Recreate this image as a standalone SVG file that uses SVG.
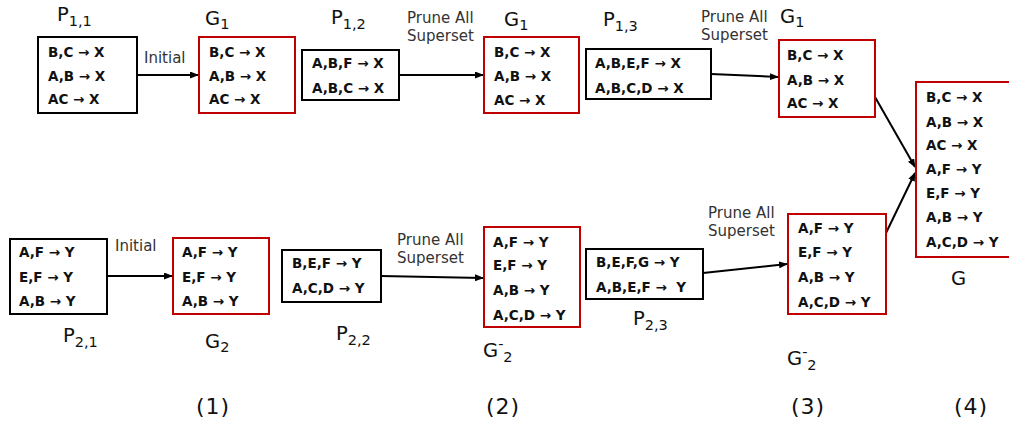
<svg xmlns="http://www.w3.org/2000/svg" width="1009" height="427" viewBox="0 0 1009 427">
<style>
.bk{fill:#fff;stroke:#000;stroke-width:2}
.rd{fill:#fff;stroke:#c00000;stroke-width:2}
.r{font-family:"DejaVu Sans",Verdana,sans-serif;font-weight:bold;font-size:13.5px;fill:#111}
.lbl{font-family:"DejaVu Sans",Verdana,sans-serif;font-size:19.5px;fill:#111}
.sub{font-size:14.5px}
.ed{font-family:"DejaVu Sans",Verdana,sans-serif;font-size:15px;fill:#333}
.num{font-family:"DejaVu Sans",Verdana,sans-serif;font-size:22px;fill:#111;letter-spacing:1px}
.cn{stroke:#000;stroke-width:2;fill:none;marker-end:url(#ah)}
</style>
<defs>
<marker id="ah" markerUnits="userSpaceOnUse" markerWidth="9" markerHeight="7" refX="8" refY="3.5" orient="auto">
<path d="M0,0 L9,3.5 L0,7 z" fill="#000"/>
</marker>
</defs>
<rect width="1009" height="427" fill="#fff"/>

<g id="connectors">
<line class="cn" x1="137" y1="75" x2="198" y2="75"/>
<line class="cn" x1="399" y1="75" x2="483" y2="75"/>
<line class="cn" x1="711" y1="74" x2="778" y2="77"/>
<line class="cn" x1="875" y1="97" x2="915" y2="167"/>
<line class="cn" x1="107" y1="276" x2="172" y2="276"/>
<line class="cn" x1="381" y1="276" x2="483" y2="278"/>
<line class="cn" x1="703" y1="273" x2="787" y2="264"/>
<line class="cn" x1="886" y1="233" x2="915" y2="173"/>
<text class="ed" x="144" y="63">Initial</text>
<text class="ed" x="407" y="23">Prune All</text>
<text class="ed" x="407" y="41">Superset</text>
<text class="ed" x="701" y="22">Prune All</text>
<text class="ed" x="701" y="40">Superset</text>
<text class="ed" x="115" y="251">Initial</text>
<text class="ed" x="397" y="245">Prune All</text>
<text class="ed" x="397" y="263">Superset</text>
<text class="ed" x="708" y="218">Prune All</text>
<text class="ed" x="708" y="236">Superset</text>
</g>

<g id="P11">
<rect class="bk" x="38" y="37" width="99" height="76"/>
<text class="r" x="48" y="57">B,C → X</text>
<text class="r" x="48" y="81">A,B → X</text>
<text class="r" x="48" y="104">AC → X</text>
<text class="lbl" x="57" y="21">P<tspan class="sub" dy="5">1,1</tspan></text>
</g>

<g id="G1a">
<rect class="rd" x="199" y="37" width="96" height="76"/>
<text class="r" x="209" y="57">B,C → X</text>
<text class="r" x="209" y="81">A,B → X</text>
<text class="r" x="209" y="104">AC → X</text>
<text class="lbl" x="205" y="25">G<tspan class="sub" dy="4">1</tspan></text>
</g>

<g id="P12">
<rect class="bk" x="302" y="50" width="97" height="50"/>
<text class="r" x="312" y="68">A,B,F → X</text>
<text class="r" x="312" y="93">A,B,C → X</text>
<text class="lbl" x="331" y="24">P<tspan class="sub" dy="5">1,2</tspan></text>
</g>

<g id="G1b">
<rect class="rd" x="484" y="37" width="95" height="76"/>
<text class="r" x="494" y="57">B,C → X</text>
<text class="r" x="494" y="81">A,B → X</text>
<text class="r" x="494" y="105">AC → X</text>
<text class="lbl" x="504" y="26">G<tspan class="sub" dy="4">1</tspan></text>
</g>

<g id="P13">
<rect class="bk" x="586" y="49" width="125" height="50"/>
<text class="r" x="595" y="68">A,B,E,F → X</text>
<text class="r" x="595" y="93">A,B,C,D → X</text>
<text class="lbl" x="603" y="26">P<tspan class="sub" dy="5">1,3</tspan></text>
</g>

<g id="G1c">
<rect class="rd" x="779" y="40" width="96" height="77"/>
<text class="r" x="787" y="60">B,C → X</text>
<text class="r" x="787" y="85">A,B → X</text>
<text class="r" x="787" y="108">AC → X</text>
<text class="lbl" x="780" y="23">G<tspan class="sub" dy="4">1</tspan></text>
</g>

<g id="G">
<rect class="rd" x="916" y="82" width="100" height="175"/>
<text class="r" x="926" y="102">B,C → X</text>
<text class="r" x="926" y="127">A,B → X</text>
<text class="r" x="926" y="150">AC → X</text>
<text class="r" x="926" y="174">A,F → Y</text>
<text class="r" x="926" y="198">E,F → Y</text>
<text class="r" x="926" y="222">A,B → Y</text>
<text class="r" x="926" y="247">A,C,D → Y</text>
<text class="lbl" x="951" y="285">G</text>
</g>

<g id="P21">
<rect class="bk" x="10" y="239" width="97" height="75"/>
<text class="r" x="19" y="257">A,F → Y</text>
<text class="r" x="19" y="282">E,F → Y</text>
<text class="r" x="19" y="306">A,B → Y</text>
<text class="lbl" x="63" y="342">P<tspan class="sub" dy="5">2,1</tspan></text>
</g>

<g id="G2">
<rect class="rd" x="173" y="238" width="96" height="76"/>
<text class="r" x="182" y="257">A,F → Y</text>
<text class="r" x="182" y="282">E,F → Y</text>
<text class="r" x="182" y="306">A,B → Y</text>
<text class="lbl" x="205" y="348">G<tspan class="sub" dy="4">2</tspan></text>
</g>

<g id="P22">
<rect class="bk" x="282" y="250" width="99" height="52"/>
<text class="r" x="292" y="268">B,E,F → Y</text>
<text class="r" x="292" y="293">A,C,D → Y</text>
<text class="lbl" x="336" y="340">P<tspan class="sub" dy="5">2,2</tspan></text>
</g>

<g id="G2b">
<rect class="rd" x="484" y="227" width="96" height="100"/>
<text class="r" x="493" y="247">A,F → Y</text>
<text class="r" x="493" y="270">E,F → Y</text>
<text class="r" x="493" y="295">A,B → Y</text>
<text class="r" x="493" y="320">A,C,D → Y</text>
<text class="lbl" x="483" y="357">G<tspan class="sub" dy="-8">-</tspan><tspan class="sub" dy="13">2</tspan></text>
</g>

<g id="P23">
<rect class="bk" x="586" y="249" width="117" height="50"/>
<text class="r" x="596" y="267">B,E,F,G → Y</text>
<text class="r" x="596" y="292" xml:space="preserve">A,B,E,F →  Y</text>
<text class="lbl" x="633" y="325">P<tspan class="sub" dy="5">2,3</tspan></text>
</g>

<g id="G2c">
<rect class="rd" x="788" y="214" width="98" height="100"/>
<text class="r" x="798" y="233">A,F → Y</text>
<text class="r" x="798" y="257">E,F → Y</text>
<text class="r" x="798" y="282">A,B → Y</text>
<text class="r" x="798" y="307">A,C,D → Y</text>
<text class="lbl" x="787" y="365">G<tspan class="sub" dy="-8">-</tspan><tspan class="sub" dy="13">2</tspan></text>
</g>

<g id="steps">
<text class="num" x="196" y="414">(1)</text>
<text class="num" x="486" y="414">(2)</text>
<text class="num" x="791" y="414">(3)</text>
<text class="num" x="954" y="414">(4)</text>
</g>
</svg>
